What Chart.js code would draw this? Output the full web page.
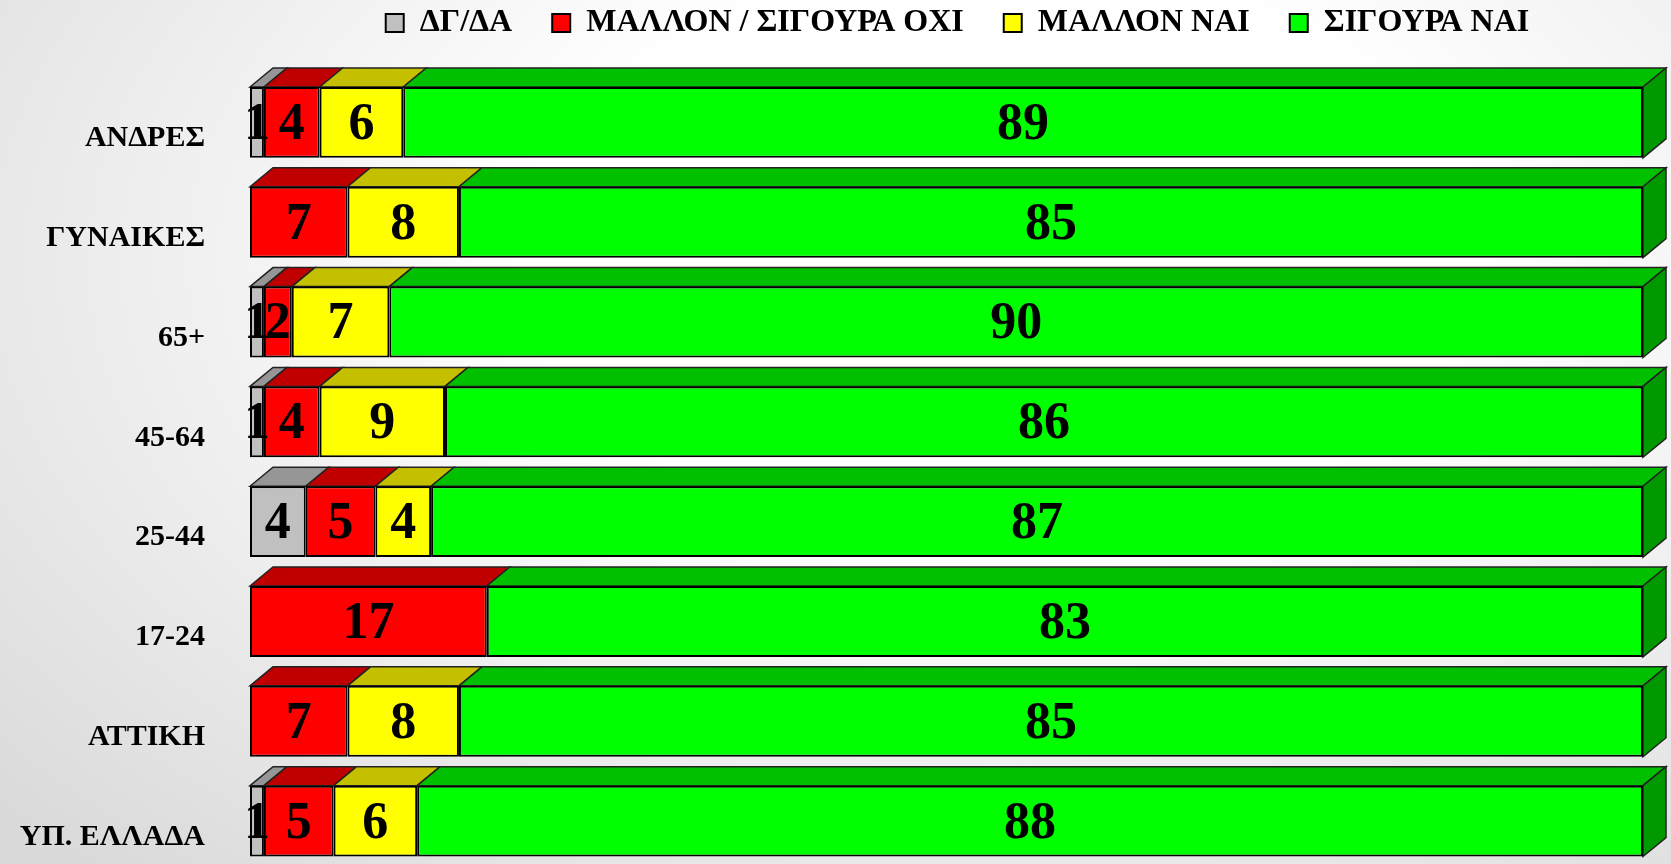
<!DOCTYPE html>
<html>
<head>
<meta charset="utf-8">
<script src="https://cdn.jsdelivr.net/npm/chart.js@4/dist/chart.umd.min.js"></script>
<style>
  html, body {
    margin: 0;
    padding: 0;
    width: 1671px;
    height: 864px;
    overflow: hidden;
    background: radial-gradient(ellipse 80% 95% at 60% 30%, #ffffff 35%, #dadada 100%);
  }
  #wrap { width: 1671px; height: 864px; overflow: hidden; }
</style>
</head>
<body>
<div id="wrap"><canvas id="surveyChart" width="1671" height="934"></canvas></div>
<script>
const categories = ["ΑΝΔΡΕΣ", "ΓΥΝΑΙΚΕΣ", "65+", "45-64", "25-44", "17-24", "ΑΤΤΙΚΗ", "ΥΠ. ΕΛΛΑΔΑ"];
const seriesNames = ["ΔΓ/ΔΑ", "ΜΑΛΛΟΝ / ΣΙΓΟΥΡΑ ΟΧΙ", "ΜΑΛΛΟΝ ΝΑΙ", "ΣΙΓΟΥΡΑ ΝΑΙ"];
const dkDa = [1, 0, 1, 1, 4, 0, 0, 1];
const mallonOxi = [4, 7, 2, 4, 5, 17, 7, 5];
const mallonNai = [6, 8, 7, 9, 4, 0, 8, 6];
const sigouraNai = [89, 85, 90, 86, 87, 83, 85, 88];

const frontColors = ["#c0c0c0", "#ff0000", "#ffff00", "#00ff00"];
const topColors = ["#969696", "#c00000", "#c4c000", "#00c000"];
const sideColor = "#009900";
const DX = 23, DY = 19;

// top faces + right side, drawn behind the front faces
const depthPlugin = {
  id: "depth",
  beforeDatasetsDraw(chart) {
    const ctx = chart.ctx;
    ctx.save();
    ctx.lineWidth = 1.5;
    ctx.strokeStyle = "#222";
    chart.data.datasets.forEach((ds, di) => {
      const meta = chart.getDatasetMeta(di);
      meta.data.forEach((bar, i) => {
        if (!ds.data[i]) return;
        const x0 = Math.min(bar.base, bar.x);
        const x1 = Math.max(bar.base, bar.x);
        const yT = bar.y - bar.height / 2;
        const yB = bar.y + bar.height / 2;
        ctx.fillStyle = topColors[di];
        ctx.beginPath();
        ctx.moveTo(x0, yT);
        ctx.lineTo(x0 + DX, yT - DY);
        ctx.lineTo(x1 + DX, yT - DY);
        ctx.lineTo(x1, yT);
        ctx.closePath();
        ctx.fill();
        ctx.stroke();
        if (di === chart.data.datasets.length - 1) {
          ctx.fillStyle = sideColor;
          ctx.beginPath();
          ctx.moveTo(x1, yT);
          ctx.lineTo(x1 + DX, yT - DY);
          ctx.lineTo(x1 + DX, yB - DY);
          ctx.lineTo(x1, yB);
          ctx.closePath();
          ctx.fill();
          ctx.stroke();
        }
      });
    });
    ctx.restore();
  },
  afterDatasetsDraw(chart) {
    const ctx = chart.ctx;
    ctx.save();
    ctx.font = "bold 52px 'Liberation Serif', serif";
    ctx.fillStyle = "#000";
    ctx.textAlign = "center";
    ctx.textBaseline = "middle";
    chart.data.datasets.forEach((ds, di) => {
      const meta = chart.getDatasetMeta(di);
      meta.data.forEach((bar, i) => {
        const v = ds.data[i];
        if (!v) return;
        ctx.fillText(String(v), (bar.x + bar.base) / 2, bar.y + 3);
      });
    });
    ctx.restore();
  }
};

// legend: fixed height, items pulled up close to the top edge
const legendPlace = {
  id: "legendPlace",
  beforeInit(chart) {
    const lg = chart.legend;
    const fit = lg.fit;
    lg.fit = function () {
      fit.call(this);
      this.height = 72.5;
    };
  },
  afterLayout(chart) {
    const lg = chart.legend;
    lg.top = -33;
    lg.bottom = lg.top + lg.height;
    lg.left += 11;
    lg.right += 11;
  }
};

const data = {
  labels: categories,
  datasets: [dkDa, mallonOxi, mallonNai, sigouraNai].map((vals, k) => ({
    label: seriesNames[k],
    data: vals,
    backgroundColor: frontColors[k],
    borderColor: "#000",
    borderWidth: 2,
    borderSkipped: false,
    barPercentage: 0.71,
    categoryPercentage: 1.0,
  })),
};

const config = {
  type: "bar",
  data: data,
  options: {
    indexAxis: "y",
    responsive: false,
    animation: false,
    layout: { padding: { left: 0, right: 28, top: 0, bottom: 0 } },
    plugins: {
      legend: {
        position: "top",
        fullSize: false,
        labels: {
          color: "#000",
          font: { family: "'Liberation Serif', serif", size: 32, weight: "bold" },
          boxWidth: 18,
          boxHeight: 18,
          padding: 40,
        },
      },
      tooltip: { enabled: false },
    },
    scales: {
      x: { stacked: true, min: 0, max: 100, display: false },
      y: {
        stacked: true,
        grid: { display: false, drawTicks: false },
        border: { display: false },
        ticks: {
          color: "#000",
          font: { family: "'Liberation Serif', serif", size: 30, weight: "bold" },
          padding: 45,
          labelOffset: 16,
        },
        afterFit(scale) { scale.width = 250; },
      },
    },
  },
  plugins: [depthPlugin, legendPlace],
};

const ctx = document.getElementById("surveyChart").getContext("2d");
const resultChart = new Chart(ctx, config);
</script>
</body>
</html>
